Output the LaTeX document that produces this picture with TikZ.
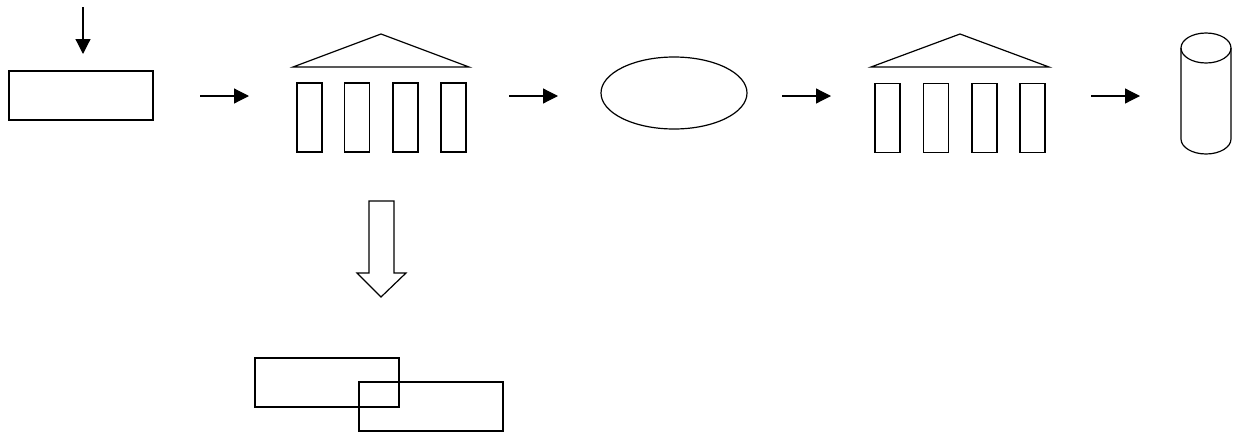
\documentclass[tikz,border=0pt]{standalone}
\usetikzlibrary{arrows.meta,shapes.geometric}
\begin{document}
\begin{tikzpicture}[x=1pt,y=-1pt,line width=1.2pt,
  box/.style={draw,rectangle,inner sep=0pt,line width=1.2pt},
  col/.style={box,minimum width=25pt,minimum height=69pt},
  flow/.style={-{Triangle[length=15pt,width=15pt]},line width=1.2pt}]
\useasboundingbox (0,0) rectangle (1234,434);
% input box
\node[box,minimum width=144pt,minimum height=49pt] (inbox) at (81,95.5) {};
\coordinate (in0) at (83,7);
\coordinate (in1) at (83,54);
\draw[flow] (in0) -- (in1);
% temple 1
\draw (293,67) -- (381,34) -- (469,67) -- cycle;
\node[col] (ta1) at (309.5,117.5) {};
\node[col] (ta2) at (357,117.5) {};
\node[col] (ta3) at (405.5,117.5) {};
\node[col] (ta4) at (453.5,117.5) {};
% ellipse
\node[draw,ellipse,minimum width=146pt,minimum height=72pt,inner sep=0pt] (ell) at (674,93) {};
% temple 2
\draw (871,67) -- (960,34) -- (1049,67) -- cycle;
\node[col] (tb1) at (887.5,118) {};
\node[col] (tb2) at (936,118) {};
\node[col] (tb3) at (984.5,118) {};
\node[col] (tb4) at (1032.5,118) {};
% cylinder
\draw (1181,48) -- (1181,139) arc[start angle=180,end angle=360,x radius=25,y radius=-15] -- (1231,48);
\draw (1206,48) ellipse[x radius=25,y radius=15];
% flow arrows
\coordinate (a1s) at (200,96); \coordinate (a1e) at (249,96);
\coordinate (a2s) at (509,96); \coordinate (a2e) at (558,96);
\coordinate (a3s) at (782,96); \coordinate (a3e) at (831,96);
\coordinate (a4s) at (1091,96); \coordinate (a4e) at (1140,96);
\draw[flow] (a1s) -- (a1e);
\draw[flow] (a2s) -- (a2e);
\draw[flow] (a3s) -- (a3e);
\draw[flow] (a4s) -- (a4e);
% block arrow
\draw[line join=miter] (369,201) -- (394,201) -- (394,273) -- (406,273) -- (381,297) -- (357,273) -- (369,273) -- cycle;
% overlapping boxes
\node[box,minimum width=144pt,minimum height=49pt] (ovA) at (327,382.5) {};
\node[box,minimum width=144pt,minimum height=49pt] (ovB) at (431,406.5) {};
\end{tikzpicture}
\end{document}
